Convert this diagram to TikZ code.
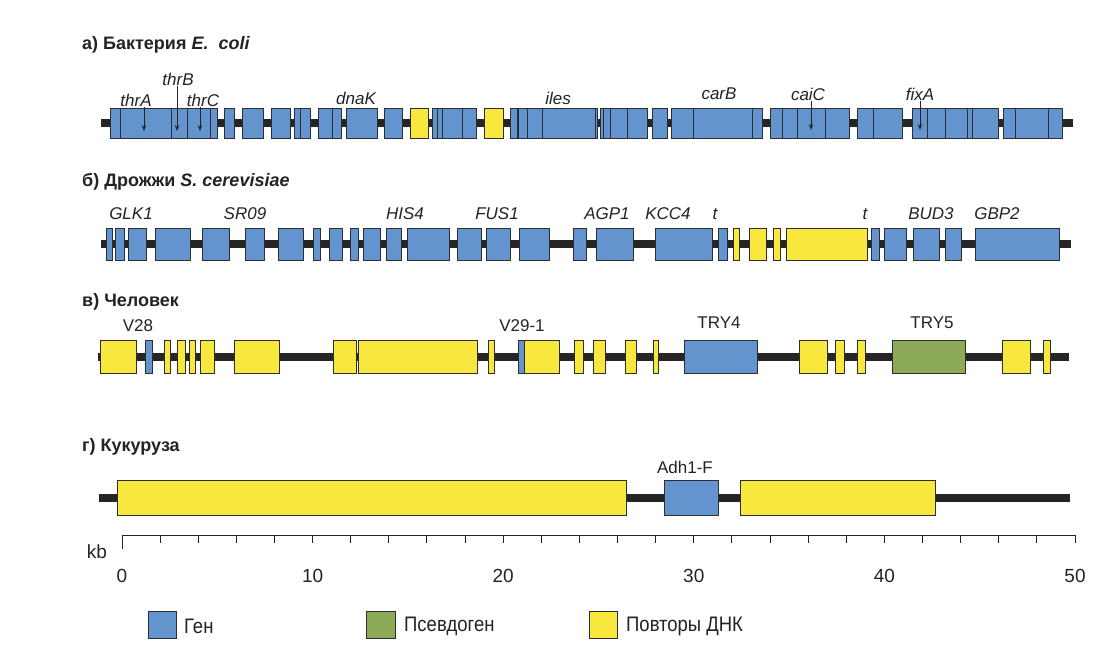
\documentclass[tikz,border=0pt]{standalone}
\usepackage{fontspec}
\setmainfont{Liberation Sans}
\newfontfamily\narrowfont[FakeStretch=0.88]{Liberation Sans}
\usetikzlibrary{arrows.meta}
\definecolor{geneblue}{RGB}{100,148,206}
\definecolor{repyellow}{RGB}{248,232,62}
\definecolor{pseudogreen}{RGB}{140,170,88}
\definecolor{edgec}{RGB}{45,45,50}
\definecolor{chrom}{RGB}{38,36,36}
\definecolor{txt}{RGB}{35,35,35}
\begin{document}
\begin{tikzpicture}[x=1pt,y=-1pt,
  chromline/.style={line width=7.5pt, draw=chrom},
  genebox/.style={draw=edgec, line width=0.8pt},
  divider/.style={draw=edgec, line width=0.8pt},
  title/.style={font=\fontsize{18}{20}\selectfont\bfseries, anchor=west, text=txt, inner sep=0pt},
  glabel/.style={font=\fontsize{17}{19}\selectfont\itshape, text=txt, inner sep=1pt},
  ulabel/.style={font=\fontsize{17}{19}\selectfont, text=txt, inner sep=1pt},
  pointer/.style={-{Stealth[length=6pt,width=4.5pt]}, line width=0.8pt, draw=txt},
  axisline/.style={line width=1pt, draw=txt},
  scalelbl/.style={font=\fontsize{19}{21}\selectfont, text=txt, inner sep=0pt},
  legtext/.style={font=\fontsize{21}{23}\selectfont\narrowfont, text=txt, anchor=west, inner sep=0pt}
]
\useasboundingbox (0,0) rectangle (1115,650);
\fill[white] (0,0) rectangle (1115,650);

% ---------------- a) E. coli ----------------
\node[title] (ta) at (82,45) {а) Бактерия \textit{E.~~coli}};
\draw[chromline] (101,123) -- (1073,123);
\foreach \a/\b/\c in {110/217/geneblue, 224/234/geneblue, 242/263/geneblue, 271/290/geneblue,
  294/310/geneblue, 318/341/geneblue, 346/377/geneblue, 384/402/geneblue, 410/428/repyellow,
  432/442/geneblue, 442/476/geneblue, 484/503/repyellow, 510/517/geneblue, 518/597/geneblue,
  600/647/geneblue, 652/667/geneblue, 671/762/geneblue, 770/849/geneblue, 857/902/geneblue,
  912/998/geneblue, 1003/1062/geneblue}
  \draw[genebox, fill=\c] (\a,108) rectangle (\b,138);
\foreach \d in {120,171,187,210,300,332,437,462,527,542,595,603,610,627,693,752,782,797,825,873,927,945,967,972,1015,1048}
  \draw[divider] (\d,108) -- (\d,138);

\node[glabel] (thrA) at (136,100) {thrA};
\node[glabel] (thrB) at (178,79) {thrB};
\node[glabel] (thrC) at (203,100) {thrC};
\node[glabel] (dnaK) at (356,98) {dnaK};
\node[glabel] (iles) at (558,98) {iles};
\node[glabel] (carB) at (719,94) {carB};
\node[glabel] (caiC) at (808,94) {caiC};
\node[glabel] (fixA) at (920,94) {fixA};
\coordinate (pA) at (144,131);
\coordinate (pB) at (177,131);
\coordinate (pC) at (200,131);
\coordinate (pcai) at (811,130);
\coordinate (pfix) at (920,130);
\draw[pointer] (thrA.south -| pA) -- (pA);
\draw[pointer] (thrB.south -| pB) -- (pB);
\draw[pointer] (thrC.south -| pC) -- (pC);
\draw[pointer] (caiC.south -| pcai) -- (pcai);
\draw[pointer] (fixA.south -| pfix) -- (pfix);

% ---------------- b) yeast ----------------
\node[title] (tb) at (82,182) {б) Дрожжи \textit{S. cerevisiae}};
\draw[chromline] (101,244) -- (1071,244);
\foreach \a/\b/\c in {106/112/geneblue, 115/124/geneblue, 128/146/geneblue, 155/190/geneblue,
  202/229/geneblue, 245/264/geneblue, 278/303/geneblue, 313/320/geneblue, 329/342/geneblue,
  350/358/geneblue, 363/380/geneblue, 386/401/geneblue, 407/449/geneblue, 457/481/geneblue,
  486/510/geneblue, 519/549/geneblue, 573/586/geneblue, 596/633/geneblue, 655/712/geneblue,
  718/727/geneblue, 733/739/repyellow, 749/766/repyellow, 773/780/repyellow, 786/867/repyellow,
  871/879/geneblue, 884/906/geneblue, 913/939/geneblue, 945/961/geneblue, 975/1059/geneblue}
  \draw[genebox, fill=\c] (\a,228) rectangle (\b,260);
\node[glabel] (GLK1) at (131,214) {GLK1};
\node[glabel] (SRO9) at (245,214) {SR09};
\node[glabel] (HIS4) at (405,214) {HIS4};
\node[glabel] (FUS1) at (497,214) {FUS1};
\node[glabel] (AGP1) at (607,214) {AGP1};
\node[glabel] (KCC4) at (668,214) {KCC4};
\node[glabel] (t1) at (715,214) {t};
\node[glabel] (t2) at (865,214) {t};
\node[glabel] (BUD3) at (931,214) {BUD3};
\node[glabel] (GBP2) at (997,214) {GBP2};

% ---------------- c) human ----------------
\node[title] (tc) at (82,302) {в) Человек};
\draw[chromline] (98,357) -- (1069,357);
\foreach \a/\b/\c in {100/136/repyellow, 145/152/geneblue, 164/170/repyellow, 177/185/repyellow,
  189/195/repyellow, 200/214/repyellow, 234/279/repyellow, 333/356/repyellow, 358/477/repyellow,
  488/494/repyellow, 518/524/geneblue, 524/559/repyellow, 574/583/repyellow, 593/605/repyellow,
  625/636/repyellow, 653/658/repyellow, 684/757/geneblue, 799/827/repyellow, 835/844/repyellow,
  857/865/repyellow, 892/965/pseudogreen, 1002/1030/repyellow, 1043/1050/repyellow}
  \draw[genebox, fill=\c] (\a,340) rectangle (\b,373);
\node[ulabel] (V28) at (138,326) {V28};
\node[ulabel] (V291) at (522,326) {V29-1};
\node[ulabel] (TRY4) at (719,323) {TRY4};
\node[ulabel] (TRY5) at (932,323) {TRY5};

% ---------------- d) maize ----------------
\node[title] (td) at (82,447) {г) Кукуруза};
\draw[chromline] (99,498) -- (1070,498);
\foreach \a/\b/\c in {117/626/repyellow, 664/718/geneblue, 740/935/repyellow}
  \draw[genebox, fill=\c] (\a,480) rectangle (\b,515);
\node[ulabel] (Adh) at (685,467) {Adh1-F};

% ---------------- scale ----------------
\draw[axisline] (122,535) -- (1075,535);
\draw[axisline] (122,535) -- (122,549);
\foreach \k in {2,4,...,50}
  \draw[axisline] ({122+\k*19.06},535) -- ++(0,8);
\foreach \k in {0,10,20,30,40,50}
  \node[scalelbl] (s\k) at ({122+\k*19.06},576) {\k};
\node[scalelbl] (kb) at (97,552) {kb};

% ---------------- legend ----------------
\draw[genebox, fill=geneblue] (148,611) rectangle (176,638);
\node[legtext] (lg1) at (184,626) {Ген};
\draw[genebox, fill=pseudogreen] (366,611) rectangle (395,638);
\node[legtext] (lg2) at (404,626) {Псевдоген};
\draw[genebox, fill=repyellow] (589,611) rectangle (617,638);
\node[legtext] (lg3) at (626,626) {Повторы ДНК};
\end{tikzpicture}
\end{document}
